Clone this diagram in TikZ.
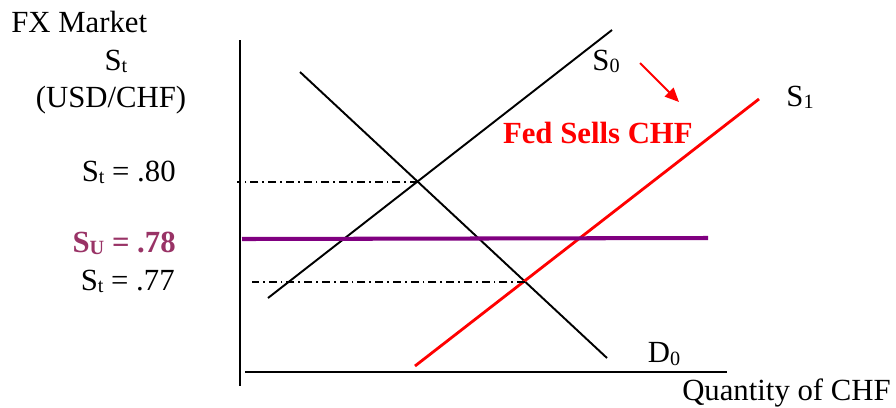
\documentclass[tikz,border=0pt]{standalone}
\usepackage{fontspec}
\setmainfont{Liberation Serif}
\usetikzlibrary{arrows.meta}

\definecolor{plum}{RGB}{153,51,102}
\definecolor{purpleline}{RGB}{128,0,128}
\newcommand{\lowidx}[1]{\raisebox{-1.2pt}{\fontsize{11.5}{11.5}\selectfont #1}}

\begin{document}
\begin{tikzpicture}[
    x=0.02cm, y=-0.02cm,
    lbl/.style={font=\fontsize{17.5}{20}\selectfont, inner sep=0pt},
    axis/.style={line width=1.3pt},
    curve/.style={line width=1.1pt},
    shifted/.style={line width=1.6pt, red},
    guide/.style={line width=0.8pt, dash pattern=on 4.5pt off 2.3pt on 1pt off 2.3pt},
    flow/.style={-{Triangle[length=8pt, width=7pt]}, line width=1.1pt, red},
]
    \useasboundingbox (0,0) rectangle (896,407);

    % axes
    \coordinate (ytop) at (240,40);
    \coordinate (ybot) at (240,386);
    \coordinate (xleft) at (245,372);
    \coordinate (xright) at (727,372);
    \draw[axis] (ytop) -- (ybot);
    \draw[axis] (xleft) -- (xright);

    % curves
    \coordinate (s0a) at (268,298);
    \coordinate (s0b) at (612,30);
    \coordinate (d0a) at (300,72);
    \coordinate (d0b) at (607,358);
    \coordinate (s1a) at (415,366);
    \coordinate (s1b) at (759,99);
    \draw[curve] (s0a) -- (s0b);
    \draw[curve] (d0a) -- (d0b);
    \draw[shifted] (s1a) -- (s1b);

    % equilibrium guides
    \coordinate (eq0) at (418,182);
    \coordinate (eq1) at (525,282);
    \draw[guide] (eq0) -- (237,182);
    \draw[guide] (eq1) -- (252,282);

    % upper target
    \coordinate (ua) at (242,239);
    \coordinate (ub) at (708,238);
    \draw[purpleline, line width=2.3pt] (ua) -- (ub);

    % labels
    \node[lbl, anchor=west] (market) at (11,22) {FX Market};
    \node[lbl] (st) at (116,61) {S\lowidx{t}};
    \node[lbl] (unit) at (111,100) {(USD/CHF)};
    \node[lbl, anchor=east] (p80) at (176,172) {S\lowidx{t} = .80};
    \node[lbl, anchor=east, plum, font=\fontsize{17.5}{20}\selectfont\bfseries] (p78) at (176,243) {S\lowidx{U} = .78};
    \node[lbl, anchor=east] (p77) at (175,281) {S\lowidx{t} = .77};
    \node[lbl] (s0lbl) at (606,61) {S\lowidx{0}};
    \node[lbl] (s1lbl) at (800,97) {S\lowidx{1}};
    \node[lbl] (d0lbl) at (664,354) {D\lowidx{0}};
    \node[lbl, anchor=east, red, font=\fontsize{17.5}{20}\selectfont\bfseries] (fed) at (693,133) {Fed Sells CHF};
    \node[lbl, anchor=east] (qty) at (891,393) {Quantity of CHF};

    \coordinate (arra) at (640,63);
    \coordinate (arrb) at (679,102);
    \draw[flow] (arra) -- (arrb);
\end{tikzpicture}
\end{document}
